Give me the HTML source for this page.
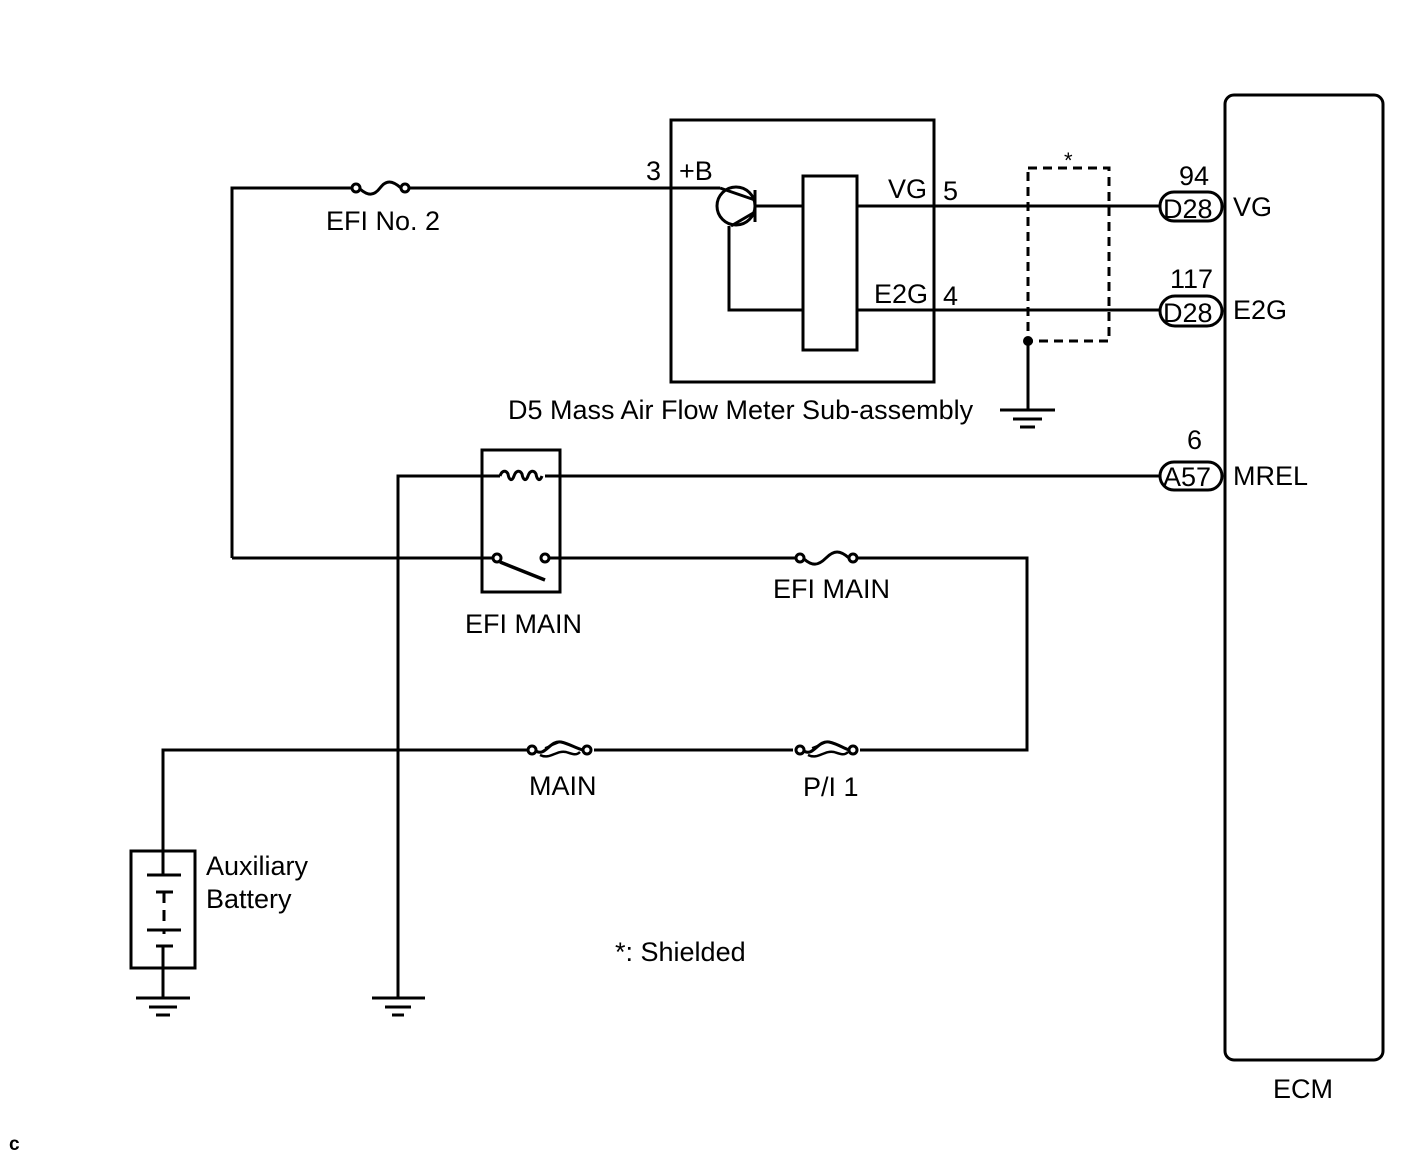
<!DOCTYPE html>
<html><head><meta charset="utf-8"><style>
html,body{margin:0;padding:0;background:#fff;}
svg{display:block;}
text{font-family:"Liberation Sans",Arial,sans-serif;font-size:27px;fill:#000;}
</style></head><body>
<svg width="1424" height="1160" viewBox="0 0 1424 1160" xmlns="http://www.w3.org/2000/svg">
<g fill="none" stroke="#000" stroke-width="3">
<rect x="1225" y="95" width="158" height="965" rx="9"/>
<rect x="671" y="120" width="263" height="262"/>
<rect x="803" y="176" width="54" height="174"/>
<circle cx="736" cy="206" r="19"/>
<line x1="755" y1="190" x2="755" y2="222"/>
<path d="M720 188 L755 200 M755 212 L731 226"/>
<path d="M729 226 L729 310 L803 310"/>
<line x1="755" y1="206" x2="803" y2="206"/>
<path d="M232 558 L232 188 L352 188 M410 188 L720 188"/>
<circle cx="356" cy="188" r="4"/><circle cx="405" cy="188" r="4"/>
<path d="M360 189 C368 196 374 196 380 188 C386 180 392 180 401 188"/>
<line x1="857" y1="206" x2="1160" y2="206"/>
<line x1="857" y1="310" x2="1160" y2="310"/>
<rect x="1160" y="192" width="62" height="29" rx="14"/>
<rect x="1160" y="296" width="62" height="30" rx="15"/>
<rect x="1160" y="462" width="62" height="28" rx="14"/>
<rect x="1028" y="168" width="81" height="173" stroke-dasharray="9,6"/>
<line x1="1028" y1="341" x2="1028" y2="410"/>
<line x1="1000" y1="410" x2="1055" y2="410"/>
<line x1="1013" y1="419" x2="1042" y2="419"/>
<line x1="1020" y1="427" x2="1035" y2="427"/>
<rect x="482" y="450" width="78" height="142"/>
<path d="M398 998 L398 476 L500 476 M545 476 L1160 476"/>
<path d="M500 476 c2 -6 6 -6 8 -2 c1 6 4 8 6 2 c2 -6 6 -6 8 -2 c1 6 4 8 6 2 c2 -6 6 -6 8 -2 c1 6 4 8 6 2"/>
<path d="M232 558 L493 558 M549 558 L796 558 M857 558 L1027 558 L1027 750 L860 750 M793 750 L594 750 M527 750 L163 750 L163 851"/>
<circle cx="497" cy="558" r="4"/><circle cx="545" cy="558" r="4"/>
<line x1="500" y1="562" x2="545" y2="580" stroke-width="3.5"/>
<circle cx="800" cy="558" r="4"/><circle cx="853" cy="558" r="4"/>
<path d="M804 559 C812 566 818 566 826 558 C834 550 840 550 849 558"/>
<circle cx="532" cy="750" r="4"/><circle cx="587" cy="750" r="4"/>
<path d="M536 751 C545 757 550 740 561 742 C570 744 575 748 583 750"/>
<path d="M540 755 C550 760 556 750 566 752 C572 754 576 756 580 752" stroke-width="2.5"/>
<path d="M545 748 L560 742" stroke-width="2"/>
<circle cx="800" cy="750" r="4"/><circle cx="853" cy="750" r="4"/>
<path d="M804 751 C813 757 818 740 829 742 C838 744 843 748 849 750"/>
<path d="M808 755 C818 760 824 750 834 752 C840 754 844 756 848 752" stroke-width="2.5"/>
<path d="M812 748 L827 742" stroke-width="2"/>
<rect x="131" y="851" width="64" height="117"/>
<path d="M163 851 L163 875 M147 875 L181 875 M156 892 L173 892 M164 892 L164 903 M164 910 L164 921 M147 930 L181 930 M164 930 L164 934 M156 946 L173 946 M163 946 L163 998"/>
<line x1="136" y1="998" x2="190" y2="998"/>
<line x1="149" y1="1007" x2="177" y2="1007"/>
<line x1="156" y1="1015" x2="170" y2="1015"/>
<line x1="372" y1="998" x2="425" y2="998"/>
<line x1="385" y1="1007" x2="411" y2="1007"/>
<line x1="392" y1="1015" x2="404" y2="1015"/>
</g>
<circle cx="1028" cy="341" r="5" fill="#000"/>
<text x="326" y="230">EFI No. 2</text>
<text x="646" y="180">3</text>
<text x="679" y="180">+B</text>
<text x="888" y="198">VG</text>
<text x="943" y="200">5</text>
<text x="874" y="303">E2G</text>
<text x="943" y="305">4</text>
<text x="1064" y="168" style="font-size:22px">*</text>
<text x="1179" y="185">94</text>
<text x="1170" y="288">117</text>
<text x="1187" y="449">6</text>
<text x="1163" y="218">D28</text>
<text x="1163" y="322">D28</text>
<text x="1163" y="486">A57</text>
<text x="1233" y="216">VG</text>
<text x="1233" y="319">E2G</text>
<text x="1233" y="485">MREL</text>
<text x="508" y="419">D5  Mass Air Flow Meter Sub-assembly</text>
<text x="465" y="633">EFI MAIN</text>
<text x="773" y="598">EFI MAIN</text>
<text x="529" y="795">MAIN</text>
<text x="803" y="796">P/I 1</text>
<text x="206" y="875">Auxiliary</text>
<text x="206" y="908">Battery</text>
<text x="615" y="961">*: Shielded</text>
<text x="1273" y="1098">ECM</text>
<text x="9" y="1150" style="font-size:19px;font-weight:bold">c</text>
</svg>
</body></html>
